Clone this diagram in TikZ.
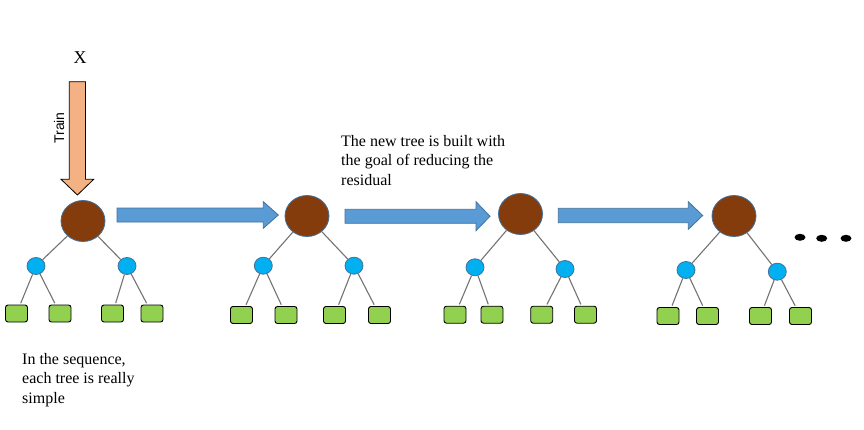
\documentclass[tikz,border=0pt]{standalone}
\usepackage{fontspec}
\setmainfont{Liberation Serif}
\newfontfamily\labelfont{Liberation Sans}
\usetikzlibrary{shapes.geometric}
\definecolor{rootbrown}{HTML}{843C0C}
\definecolor{splitblue}{HTML}{00B0F0}
\definecolor{leafgreen}{HTML}{92D050}
\definecolor{flowblue}{HTML}{5B9BD5}
\definecolor{edgeblue}{HTML}{41719C}
\definecolor{trainorange}{HTML}{F4B183}
\definecolor{linegray}{HTML}{737373}
\tikzset{
  root/.style={ellipse, draw=edgeblue, fill=rootbrown, line width=0.8,
    minimum width=44, minimum height=41, inner sep=0},
  split/.style={ellipse, draw=edgeblue, fill=splitblue, line width=0.8,
    minimum width=18, minimum height=17, inner sep=0},
  leaf/.style={rectangle, rounded corners=2.5, draw=black, fill=leafgreen,
    line width=0.9, minimum width=22, minimum height=17, inner sep=0},
  flow/.style={draw=edgeblue, fill=flowblue, line width=0.8},
  note/.style={align=left, inner sep=0, font=\fontsize{16}{19.5}\selectfont},
}
\begin{document}
\begin{tikzpicture}[x=1pt, y=-1pt]
  \useasboundingbox (0,0) rectangle (864,429);
  % input and training arrow
  \node (x) at (80,58) {\fontsize{18}{20}\selectfont X};
  \draw[fill=trainorange, line width=0.8]
    (69.3,81.7) -- (85.5,81.7) -- (85.5,179.3) -- (93.7,179.3)
    -- (77.4,195) -- (61,179.3) -- (69.3,179.3) -- cycle;
  \node[rotate=90, inner sep=0] (train) at (59,128)
    {\labelfont\fontsize{14}{16}\selectfont Train};
  % trees
  \draw
    (83,221) node[root] (r1){}
    (36,266) node[split] (s1a){}
    (127,266) node[split] (s1b){}
    (16.5,313.5) node[leaf] (l1a){}
    (60,313.5) node[leaf] (l1b){}
    (112.5,313.5) node[leaf] (l1c){}
    (152,313.5) node[leaf] (l1d){};
  \draw
    (307,216) node[root] (r2){}
    (263.3,265.7) node[split] (s2a){}
    (354,265.7) node[split] (s2b){}
    (241.5,315) node[leaf] (l2a){}
    (286,315) node[leaf] (l2b){}
    (334.5,315) node[leaf] (l2c){}
    (379.5,315) node[leaf] (l2d){};
  \draw
    (520.5,214) node[root] (r3){}
    (475,267.3) node[split] (s3a){}
    (565,269) node[split] (s3b){}
    (455,314.7) node[leaf] (l3a){}
    (492,314.7) node[leaf] (l3b){}
    (541.7,314.7) node[leaf] (l3c){}
    (585.5,314.7) node[leaf] (l3d){};
  \draw
    (734,216) node[root] (r4){}
    (686,270) node[split] (s4a){}
    (777.3,271.7) node[split] (s4b){}
    (668,316) node[leaf] (l4a){}
    (707.5,316) node[leaf] (l4b){}
    (760.5,316) node[leaf] (l4c){}
    (800.5,316) node[leaf] (l4d){};
  \begin{scope}[draw=linegray, line width=1.1]
    \foreach \t in {1,2,3,4} {
      \draw (r\t) to (s\t a);
      \draw (r\t) to (s\t b);
      \draw[shorten >=1.5] (s\t a) to (l\t a);
      \draw[shorten >=1.5] (s\t a) to (l\t b);
      \draw[shorten >=1.5] (s\t b) to (l\t c);
      \draw[shorten >=1.5] (s\t b) to (l\t d);
    }
  \end{scope}
  % boosting arrows
  \draw[flow] (117,208) -- (263.3,208) -- (263.3,201.7) -- (278.3,215)
    -- (263.3,228.3) -- (263.3,222) -- (117,222) -- cycle;
  \draw[flow] (345,209.3) -- (476,209.3) -- (476,201.7) -- (490,216.3)
    -- (476,230.7) -- (476,223.3) -- (345,223.3) -- cycle;
  \draw[flow] (558.3,208.3) -- (688.3,208.3) -- (688.3,201.7) -- (702.7,215.5)
    -- (688.3,229.3) -- (688.3,222.7) -- (558.3,222.7) -- cycle;
  % dots
  \fill (800,237.3) ellipse [x radius=5.5, y radius=3.5];
  \fill (821.7,238.3) ellipse [x radius=5.5, y radius=3.5];
  \fill (846,238.3) ellipse [x radius=5.5, y radius=3.5];
  % notes
  \node[note, anchor=north west] (residual) at (341,135)
    {The new tree is built with\\the goal of reducing the\\residual};
  \node[note, anchor=north west] (simple) at (22,352.7)
    {In the sequence,\\each tree is really\\simple};
\end{tikzpicture}
\end{document}
